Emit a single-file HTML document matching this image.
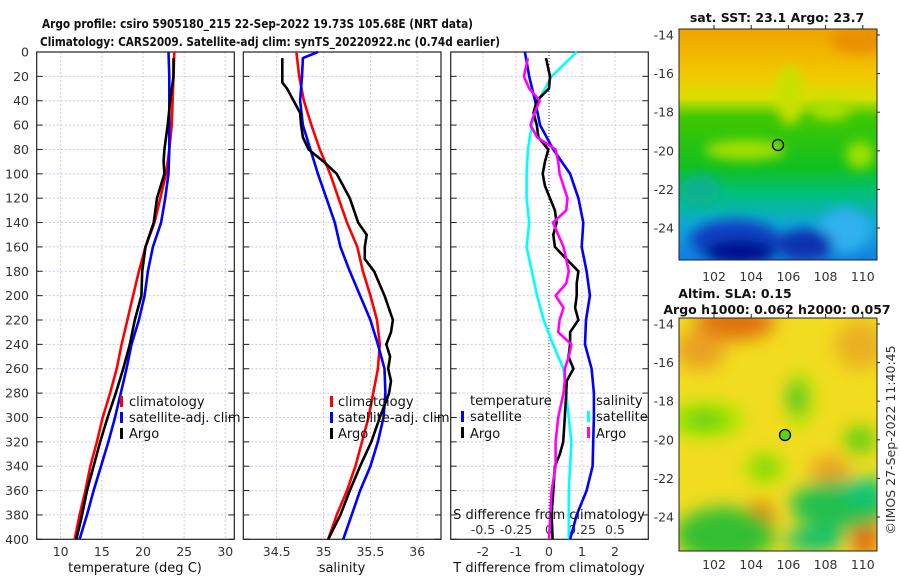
<!DOCTYPE html>
<html><head><meta charset="utf-8"><style>
html,body{margin:0;padding:0;background:#fff;}
svg{display:block;font-family:"DejaVu Sans","Liberation Sans",sans-serif;}
.tk{font-size:12.5px;fill:#333;}
.tt{font-size:12.5px;font-weight:bold;fill:#111;}
.lg{font-size:13px;fill:#111;}
</style></head><body>
<svg id="chart" width="900" height="580" viewBox="0 0 900 580" xmlns="http://www.w3.org/2000/svg">
<defs>
<filter id="bl1" x="-20%" y="-20%" width="140%" height="140%"><feGaussianBlur stdDeviation="6"/></filter>
<filter id="bl2" x="-20%" y="-20%" width="140%" height="140%"><feGaussianBlur stdDeviation="9"/></filter>
<clipPath id="c1"><rect x="679" y="29" width="198" height="231"/></clipPath>
<clipPath id="c2"><rect x="679" y="318" width="198" height="233"/></clipPath>
<linearGradient id="g1" x1="0" y1="0" x2="0" y2="1">
<stop offset="0" stop-color="#f0a400"/><stop offset="0.2" stop-color="#f2c800"/><stop offset="0.3" stop-color="#d8e000"/><stop offset="0.38" stop-color="#40c800"/><stop offset="0.6" stop-color="#10c020"/><stop offset="0.72" stop-color="#00c080"/><stop offset="0.85" stop-color="#10a8d8"/><stop offset="1" stop-color="#1080e0"/>
</linearGradient>
</defs>
<g>
<text class="tt" x="42" y="28" textLength="431" lengthAdjust="spacingAndGlyphs">Argo profile: csiro 5905180_215 22-Sep-2022 19.73S 105.68E (NRT data)</text>
<text class="tt" x="40" y="46" textLength="460" lengthAdjust="spacingAndGlyphs">Climatology: CARS2009. Satellite-adj clim: synTS_20220922.nc (0.74d earlier)</text>
</g>
<g id="axes"></g>
<g id="series"></g>
<g>
<rect x="120" y="396" width="3" height="11" fill="#f00"/><text class="lg" x="129" y="406">climatology</text>
<rect x="120" y="412" width="3" height="11" fill="#00f"/><text class="lg" x="129" y="422">satellite-adj. clim</text>
<rect x="120" y="428" width="3" height="11" fill="#000"/><text class="lg" x="129" y="438">Argo</text>
</g>
<g>
<rect x="330" y="396" width="3" height="11" fill="#f00"/><text class="lg" x="338" y="406">climatology</text>
<rect x="330" y="412" width="3" height="11" fill="#00f"/><text class="lg" x="338" y="422">satellite-adj. clim</text>
<rect x="330" y="428" width="3" height="11" fill="#000"/><text class="lg" x="338" y="438">Argo</text>
</g>
<g>
<text class="lg" x="470" y="405">temperature</text>
<rect x="461" y="411" width="3" height="11" fill="#00f"/><text class="lg" x="470" y="421">satellite</text>
<rect x="461" y="427" width="3" height="11" fill="#000"/><text class="lg" x="470" y="438">Argo</text>
<text class="lg" x="596" y="405">salinity</text>
<rect x="587" y="411" width="3" height="11" fill="#0ff"/><text class="lg" x="596" y="421">satellite</text>
<rect x="587" y="427" width="3" height="11" fill="#f0f"/><text class="lg" x="596" y="438">Argo</text>
</g>
<text class="lg" x="549" y="519" text-anchor="middle">S difference from climatology</text>
<text class="lg" x="135" y="572" text-anchor="middle">temperature (deg C)</text>
<text class="lg" x="342" y="572" text-anchor="middle">salinity</text>
<text class="lg" x="549" y="572" text-anchor="middle">T difference from climatology</text>

<g>
<g clip-path="url(#c1)">
<rect x="679" y="29" width="198" height="231" fill="url(#g1)"/>
<g filter="url(#bl1)">
<ellipse cx="860" cy="40" rx="30" ry="14" fill="#e89000"/>
<ellipse cx="790" cy="95" rx="14" ry="30" fill="#c8e000"/>
<ellipse cx="745" cy="150" rx="40" ry="10" fill="#a8e000"/>
<ellipse cx="830" cy="110" rx="20" ry="10" fill="#b0e000"/>
<ellipse cx="860" cy="155" rx="14" ry="14" fill="#a0e000"/>
<ellipse cx="845" cy="230" rx="25" ry="22" fill="#30b0f0"/>
<ellipse cx="735" cy="240" rx="45" ry="20" fill="#1040c0"/>
<ellipse cx="740" cy="252" rx="35" ry="12" fill="#000890"/>
<ellipse cx="805" cy="245" rx="28" ry="16" fill="#1030b0"/>
<ellipse cx="700" cy="190" rx="20" ry="15" fill="#10b090"/>
</g>
</g>
<rect x="679" y="29" width="198" height="231" fill="none" stroke="#222" stroke-width="1"/>
<circle cx="778" cy="145" r="5.5" fill="none" stroke="#000" stroke-width="1.3"/>
<text class="tt" x="777" y="22" text-anchor="middle">sat. SST: 23.1 Argo: 23.7</text>
</g>
<g>
<g clip-path="url(#c2)">
<rect x="679" y="318" width="198" height="233" fill="#f2dc20"/>
<g filter="url(#bl2)">
<ellipse cx="735" cy="322" rx="40" ry="18" fill="#e07010"/>
<ellipse cx="700" cy="350" rx="25" ry="20" fill="#eaa020"/>
<ellipse cx="860" cy="345" rx="25" ry="25" fill="#eab020"/>
<ellipse cx="830" cy="470" rx="20" ry="14" fill="#e8a020"/>
<ellipse cx="760" cy="520" rx="14" ry="18" fill="#e06010"/>
<ellipse cx="865" cy="535" rx="14" ry="22" fill="#e06010"/>
<ellipse cx="800" cy="400" rx="14" ry="30" fill="#b8e800"/>
<ellipse cx="797" cy="398" rx="9" ry="18" fill="#20c020"/>
<ellipse cx="705" cy="420" rx="40" ry="18" fill="#a8e800"/>
<ellipse cx="705" cy="420" rx="22" ry="9" fill="#50d010"/>
<ellipse cx="765" cy="468" rx="20" ry="16" fill="#a8e800"/>
<ellipse cx="765" cy="468" rx="12" ry="8" fill="#60d010"/>
<ellipse cx="860" cy="440" rx="16" ry="14" fill="#60d010"/>
<ellipse cx="725" cy="535" rx="50" ry="28" fill="#30c030"/>
<ellipse cx="840" cy="505" rx="50" ry="25" fill="#20c050"/>
<ellipse cx="865" cy="490" rx="20" ry="12" fill="#00c880"/>
<ellipse cx="815" cy="540" rx="30" ry="12" fill="#10c070"/>
</g>
</g>
<rect x="679" y="318" width="198" height="233" fill="none" stroke="#222" stroke-width="1"/>
<circle cx="785" cy="435" r="5.5" fill="#60d010" stroke="#000" stroke-width="1.3"/>
<text class="tt" x="735" y="298" text-anchor="middle">Altim. SLA: 0.15</text>
<text class="tt" x="777" y="314" text-anchor="middle">Argo h1000: 0.062 h2000: 0.057</text>
</g>
<text class="tk" transform="translate(895,440) rotate(-90)" text-anchor="middle">©IMOS 27-Sep-2022 11:40:45</text>
</svg>
<script>
// ---- data ----
const depthTicks = [0,20,40,60,80,100,120,140,160,180,200,220,240,260,280,300,320,340,360,380,400];
const tempTicks = [10,15,20,25,30];
const salTicks = [34.5,35,35.5,36];
const dTTicks = [-2,-1,0,1,2];
const dSTicks = [-0.5,-0.25,0,0.25,0.5];
const dSTickLabels = ["-0.5","-0.25","0","0.25","0.5"];
const latTicks = [-14,-16,-18,-20,-22,-24];
const lonTicks = [102,104,106,108,110];

const depthStd = [0,20,40,60,80,100,120,140,160,180,200,220,240,260,280,300,320,340,360,380,400];
const tempClim = [23.8,23.7,23.6,23.5,23.2,22.8,22.1,21.4,20.3,19.5,18.8,18.1,17.4,16.8,16.0,15.1,14.4,13.6,13.0,12.3,11.7];
const tempSat  = [23.1,23.2,23.2,23.2,23.2,23.1,22.7,22.2,21.2,20.6,20.2,19.5,18.6,18.0,17.3,16.6,15.8,14.9,14.0,13.2,12.3];
const depthArgo = [5,20,40,60,80,90,100,120,140,160,180,200,220,240,260,280,300,320,340,360,380,400];
const tempArgo = [23.7,23.7,23.3,23.0,22.6,22.5,22.6,21.7,21.3,20.3,19.9,19.8,19.0,18.4,17.6,16.7,15.7,14.8,14.0,13.2,12.6,11.9];

const salClim = [34.71,34.74,34.79,34.87,34.96,35.07,35.16,35.25,35.36,35.42,35.50,35.57,35.60,35.58,35.53,35.48,35.41,35.34,35.25,35.14,35.05];
const depthSalSat = [0,5,20,40,60,80,100,120,140,160,180,200,220,240,260,280,300,320,340,360,380,400];
const salSat = [34.94,34.78,34.77,34.75,34.78,34.86,34.94,35.03,35.12,35.18,35.28,35.39,35.50,35.58,35.65,35.66,35.64,35.58,35.50,35.39,35.30,35.21];
const depthSalArgo = [5,25,30,40,50,60,70,80,90,100,120,140,150,160,170,180,200,220,230,240,250,260,270,280,300,320,340,360,380,400];
const salArgo = [34.56,34.56,34.61,34.68,34.75,34.76,34.78,34.84,35.0,35.14,35.28,35.37,35.46,35.44,35.44,35.54,35.65,35.74,35.72,35.67,35.71,35.69,35.72,35.70,35.60,35.51,35.39,35.28,35.18,35.05];

const depthDiff = [0,20,40,60,80,100,120,140,160,180,200,220,240,260,280,300,320,340,360,380,400];
const dTSat = [-0.73,-0.6,-0.42,-0.27,0.13,0.64,0.89,1.04,0.99,1.14,1.24,1.12,1.09,1.29,1.36,1.36,1.34,1.32,1.14,0.84,0.64];
const dSSat = [0.21,0.02,-0.08,-0.13,-0.16,-0.17,-0.17,-0.15,-0.17,-0.13,-0.09,-0.04,0.03,0.11,0.13,0.15,0.17,0.16,0.15,0.15,0.15];
const depthDiffArgo = [5,20,30,40,50,60,70,80,90,100,110,120,130,140,150,160,170,180,190,200,210,220,230,240,250,260,270,280,300,320,330,340,360,380,400];
const dTArgo = [-0.09,0.03,0.0,-0.37,-0.47,-0.37,-0.32,-0.02,-0.12,-0.19,-0.12,0.03,0.18,0.23,0.13,0.18,0.53,0.89,0.84,0.84,0.79,0.89,0.64,0.64,0.59,0.74,0.54,0.52,0.48,0.43,0.33,0.18,0.13,0.08,0.11];
const dSArgo = [-0.16,-0.19,-0.15,-0.07,-0.11,-0.14,-0.09,0.05,0.07,0.08,0.11,0.14,0.13,0.03,0.07,0.11,0.13,0.15,0.13,0.05,0.11,0.08,0.07,0.17,0.15,0.12,0.12,0.11,0.07,0.05,0.05,0.05,0.02,0.01,0.0];

// ---- scales ----
const Y0 = 52, Y1 = 539.3;
function yD(d){ return Y0 + d*(Y1-Y0)/400; }
function xT(t){ return 60.7 + (t-10)*8.23; }
function xS(s){ return 276.7 + (s-34.5)*93.7; }
function xDT(t){ return 549 + t*33; }
function xDS(s){ return 549 + s*132; }
function yLat(l,top){ return top + (-14-l)*19.3; }
function xLon(l){ return 714 + (l-102)*18.6; }

const NS = "http://www.w3.org/2000/svg";
const axes = document.getElementById('axes');
const series = document.getElementById('series');
function mk(tag, attrs, parent){
  const e = document.createElementNS(NS, tag);
  for (const k in attrs) e.setAttribute(k, attrs[k]);
  parent.appendChild(e);
  return e;
}
const panels = [
  {x0:36.7, x1:234.3, name:'temperature-panel', ticks:tempTicks, fx:xT, labels:tempTicks.map(String)},
  {x0:243.3, x1:441, name:'salinity-panel', ticks:salTicks, fx:xS, labels:salTicks.map(String)},
  {x0:450.7, x1:648.3, name:'difference-panel', ticks:dTTicks, fx:xDT, labels:dTTicks.map(String)}
];
panels.forEach(function(p, pi){
  const g = mk('g', {}, axes);
  
  
  depthTicks.forEach(function(d){
    const y = yD(d);
    if (d > 0 && d < 400) {
      const gl = mk('line', {x1:p.x0, x2:p.x1, y1:y, y2:y, stroke:'#c4c8ec', 'stroke-width':1, 'stroke-dasharray':'2,2'}, g);
      
      
    }
    mk('line', {x1:p.x0, x2:p.x0+6, y1:y, y2:y, stroke:'#222'}, g);
    mk('line', {x1:p.x1-6, x2:p.x1, y1:y, y2:y, stroke:'#222'}, g);
    if (pi === 0) {
      const t = mk('text', {x:29, y:y+4.5, 'text-anchor':'end', class:'tk'}, g);
      t.textContent = d;
      
      
    }
  });
  p.ticks.forEach(function(v, i){
    const x = p.fx(v);
    const isZero = (pi === 2 && v === 0);
    const gl = mk('line', {x1:x, x2:x, y1:Y0, y2:Y1, stroke:isZero?'#333':'#d8c8e0', 'stroke-width':1, 'stroke-dasharray':isZero?'1,2':'2,2'}, g);
    
    
    const t = mk('text', {x:x, y:556, 'text-anchor':'middle', class:'tk'}, g);
    t.textContent = p.labels[i];
    
    
  });
  mk('rect', {x:p.x0, y:Y0, width:p.x1-p.x0, height:Y1-Y0, fill:'none', stroke:'#222', 'stroke-width':1.2}, g);
});
dSTicks.forEach(function(v, i){
  const t = mk('text', {x:xDS(v), y:534, 'text-anchor':'middle', class:'tk'}, axes);
  t.textContent = dSTickLabels[i];
  
  
});
[29, 318].forEach(function(top, mi){
  latTicks.forEach(function(l){
    const y = yLat(l, top + 6);
    const t = mk('text', {x:674, y:y+4.5, 'text-anchor':'end', class:'tk'}, axes);
    t.textContent = l;
    
    
    mk('line', {x1:875, x2:880, y1:y, y2:y, stroke:'#222'}, axes);
  });
  lonTicks.forEach(function(l){
    const x = xLon(l);
    const t = mk('text', {x:x, y:mi === 0 ? 281 : 569, 'text-anchor':'middle', class:'tk'}, axes);
    t.textContent = l;
    
    
    mk('line', {x1:x, x2:x, y1:top-4, y2:top, stroke:'#222'}, axes);
  });
});

function drawLine(xs, ds, fx, color, name){
  let dstr = '';
  for (let i = 0; i < xs.length; i++){
    dstr += (i ? 'L' : 'M') + fx(xs[i]).toFixed(1) + ',' + yD(ds[i]).toFixed(1);
  }
  const p = mk('path', {d:dstr, fill:'none', stroke:color, 'stroke-width':2.6, 'stroke-linejoin':'round'}, series);
  
  
}
drawLine(tempClim, depthStd, xT, '#f00', 'temperature-climatology-line');
drawLine(tempSat, depthStd, xT, '#00f', 'temperature-satellite-line');
drawLine(tempArgo, depthArgo, xT, '#000', 'temperature-argo-line');
drawLine(salClim, depthStd, xS, '#f00', 'salinity-climatology-line');
drawLine(salSat, depthSalSat, xS, '#00f', 'salinity-satellite-line');
drawLine(salArgo, depthSalArgo, xS, '#000', 'salinity-argo-line');
drawLine(dSSat, depthDiff, xDS, '#0ff', 'salinity-diff-satellite-line');
drawLine(dTSat, depthDiff, xDT, '#00f', 'temperature-diff-satellite-line');
drawLine(dTArgo, depthDiffArgo, xDT, '#000', 'temperature-diff-argo-line');
drawLine(dSArgo, depthDiffArgo, xDS, '#f0f', 'salinity-diff-argo-line');
</script>
</body></html>
